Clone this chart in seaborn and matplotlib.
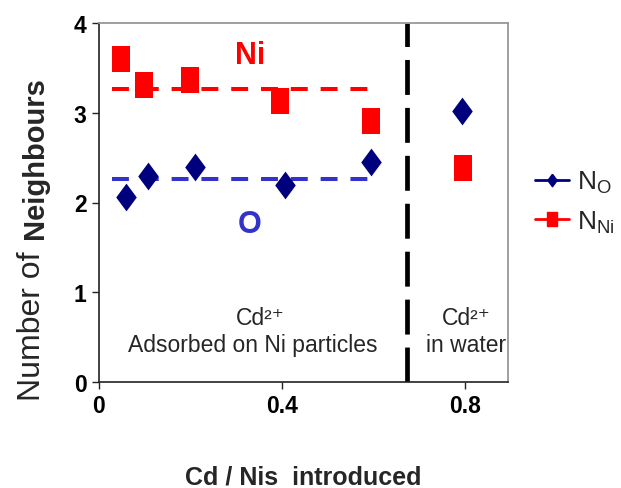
import numpy as np
import pandas as pd
import matplotlib
matplotlib.use("Agg")
import matplotlib.pyplot as plt
from matplotlib.lines import Line2D
import seaborn as sns

# ---- data ----
ratio_ni = [0.048, 0.098, 0.199, 0.396, 0.596, 0.796]
n_ni = [3.60, 3.31, 3.37, 3.13, 2.91, 2.38]
ratio_o = [0.059, 0.108, 0.210, 0.407, 0.596, 0.794]
n_o = [2.06, 2.29, 2.39, 2.19, 2.45, 3.02]
mean_ni = 3.26
mean_o = 2.26
mean_span = [0.028, 0.596]
divider_x = 0.673
x_ticks = [0, 0.4, 0.8]
x_tick_labels = ["0", "0.4", "0.8"]
y_ticks = [0, 1, 2, 3, 4]

sns.set_style("white")
plt.rcParams["font.family"] = ["Liberation Sans", "DejaVu Sans"]
plt.rcParams["mathtext.fontset"] = "custom"
plt.rcParams["mathtext.rm"] = "Liberation Sans"
plt.rcParams["mathtext.it"] = "Liberation Sans"
plt.rcParams["mathtext.bf"] = "Liberation Sans:bold"

fig = plt.figure(figsize=(6.21, 4.89), dpi=100)
ax = fig.add_axes([99 / 621, 1 - 383 / 489, (508 - 99) / 621, (383 - 24) / 489])

navy = "#00007F"
red = "#FF0000"
blue = "#3333CC"

diamond = [(0, 1), (0.74, 0), (0, -1), (-0.74, 0), (0, 1)]
rect = [(-0.7, -1), (0.7, -1), (0.7, 1), (-0.7, 1), (-0.7, -1)]

df_ni = pd.DataFrame({"x": ratio_ni, "y": n_ni})
df_o = pd.DataFrame({"x": ratio_o, "y": n_o})

# mean dashed lines
sns.lineplot(x=mean_span, y=[mean_ni, mean_ni], ax=ax, color=red, lw=2.9,
             linestyle=(0, (4.2, 3.2)), zorder=2)
sns.lineplot(x=mean_span, y=[mean_o, mean_o], ax=ax, color=blue, lw=2.9,
             linestyle=(0, (4.2, 3.2)), zorder=2)

sns.scatterplot(data=df_ni, x="x", y="y", ax=ax, marker=rect, s=19**2,
                color=red, linewidth=0, zorder=3)
sns.scatterplot(data=df_o, x="x", y="y", ax=ax, marker=diamond, s=20**2,
                color=navy, linewidth=0, zorder=3)

ax.axvline(divider_x, color="black", lw=3.4, linestyle=(0, (7.4, 2.75)), zorder=2)

ax.set_xlim(0, 0.895)
ax.set_ylim(0, 4)
ax.set_xticks(x_ticks)
ax.set_xticklabels(x_tick_labels)
ax.set_yticks(y_ticks)
ax.tick_params(axis="both", direction="out", length=5, width=1, colors="#222222",
               labelcolor="black", labelsize=16.5, pad=4, left=True, bottom=True)
for lab in ax.get_xticklabels() + ax.get_yticklabels():
    lab.set_fontweight("bold")

for side in ["top", "right"]:
    ax.spines[side].set_color("#999999")
    ax.spines[side].set_linewidth(1.3)
for side in ["left", "bottom"]:
    ax.spines[side].set_color("#222222")
    ax.spines[side].set_linewidth(1.2)

ax.set_xlabel("Cd / Nis  introduced", fontsize=18, fontweight="bold", labelpad=34)
ax.set_ylabel("")

# y label in two styles
fig.text(32 / 621, 1 - 326 / 489, "Number of", rotation=90, fontsize=23,
         ha="center", va="center")
fig.text(35 / 621, 1 - 158 / 489, "Neighbours", rotation=90, fontsize=21,
         fontweight="bold", ha="center", va="center")

ax.text(0.33, 3.64, "Ni", color=red, fontsize=22, fontweight="bold",
        ha="center", va="center")
ax.text(0.329, 1.76, "O", color=blue, fontsize=22, fontweight="bold",
        ha="center", va="center")
ax.text(0.352, 0.72, "Cd²⁺", fontsize=16.5, ha="center", va="center")
ax.text(0.337, 0.42, "Adsorbed on Ni particles", fontsize=16.5, ha="center", va="center")
ax.text(0.804, 0.72, "Cd²⁺", fontsize=16.5, ha="center", va="center")
ax.text(0.804, 0.42, "in water", fontsize=16.5, ha="center", va="center")

handles = [
    Line2D([0], [0], color=navy, lw=2, marker=diamond, markersize=9),
    Line2D([0], [0], color=red, lw=2, marker=rect, markersize=10),
]
labels = [r"N$_{\mathregular{O}}$", r"N$_{\mathregular{Ni}}$"]
fig.legend(handles, labels, loc="center left", bbox_to_anchor=(535 / 621, 1 - 203 / 489),
           frameon=False, fontsize=19, handlelength=1.3, handletextpad=0.3,
           labelspacing=0.5, borderaxespad=0, borderpad=0)

fig.savefig("out.png", dpi=100)
